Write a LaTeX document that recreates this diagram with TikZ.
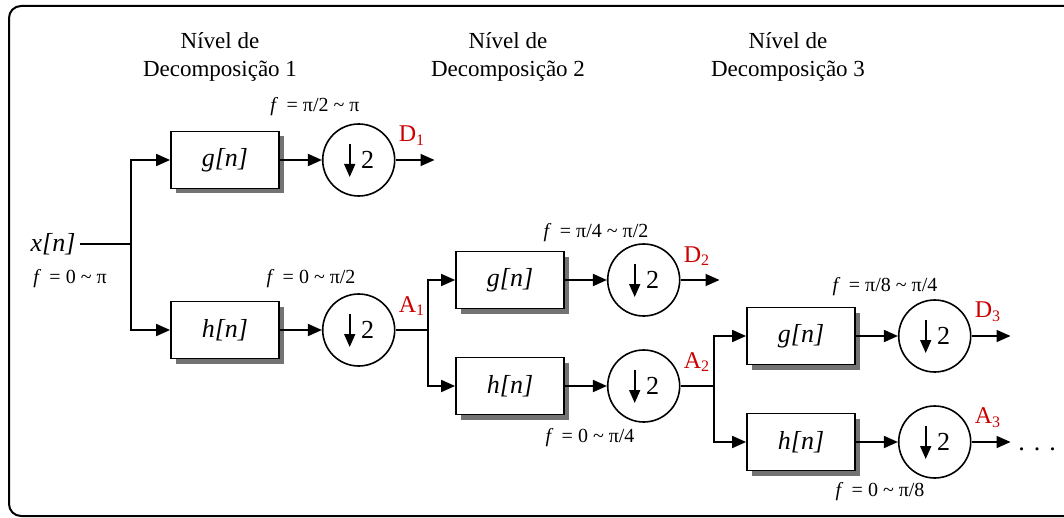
\documentclass[tikz,border=0pt]{standalone}
\usepackage{fontspec}
\setmainfont{Liberation Serif}
\newfontfamily\timesfont{Liberation Serif}
\usetikzlibrary{positioning, arrows.meta, shadows}

\definecolor{bandred}{RGB}{204,0,0}

\begin{document}
\begin{tikzpicture}[
    x=0.5pt, y=-0.5pt,
    font=\timesfont,
    box/.style={draw, line width=0.9pt, fill=white, minimum width=54pt, minimum height=28.5pt,
        font=\timesfont\fontsize{13}{15}\selectfont\itshape,
        drop shadow={shadow xshift=2.5pt, shadow yshift=-2.5pt, fill=black!55, opacity=1}},
    dec/.style={circle, draw, line width=0.8pt, fill=white, minimum size=36pt, inner sep=0pt,
        font=\timesfont\fontsize{13}{15}\selectfont},
    line/.style={-{Triangle[length=7pt, width=6pt]}, line width=0.9pt},
    wire/.style={line width=0.9pt},
    dnarrow/.style={-{Triangle[length=6.5pt, width=5.5pt]}, line width=0.9pt},
    freq/.style={font=\timesfont\fontsize{10}{12}\selectfont},
    band/.style={font=\timesfont\fontsize{12}{14}\selectfont, text=bandred, inner sep=0pt},
    level/.style={align=center, font=\timesfont\fontsize{11.5}{14}\selectfont}
]
    \useasboundingbox (0,0) rectangle (1064,518);
    \clip (0,0) rectangle (1064,518);
    \draw[line width=1pt, rounded corners=6pt] (9,6) rectangle (1078,516);

    \node[level] (lev1) at (220,57) {Nível de\\Decomposição 1};
    \node[level] (lev2) at (508,57) {Nível de\\Decomposição 2};
    \node[level] (lev3) at (788,57) {Nível de\\Decomposição 3};

    \node[font=\timesfont\fontsize{13}{15}\selectfont\itshape, inner sep=2pt] (xn) at (53,244) {x[n]};
    \node[freq] (fx) at (70,279) {\textit{f} \,= 0 \textasciitilde{} π};
    \coordinate (b0) at (131,244);

    \node[box] (g1) at (225,160) {g[n]};
    \node[box] (h1) at (225,330) {h[n]};
    \node[dec, right=21pt of g1] (c1g) {\hspace*{9pt}2};
    \node[dec, right=21pt of h1] (c1h) {\hspace*{9pt}2};
    \node[freq] (f1g) at (315,107) {\textit{f} \,= π/2 \textasciitilde{} π};
    \node[freq] (f1h) at (311,279) {\textit{f} \,= 0 \textasciitilde{} π/2};
    \coordinate[right=19.5pt of c1g] (o1);
    \coordinate (b1) at (428,330);

    \node[box] (g2) at (510,280) {g[n]};
    \node[box] (h2) at (510,386) {h[n]};
    \node[dec, right=21pt of g2] (c2g) {\hspace*{9pt}2};
    \node[dec, right=21pt of h2] (c2h) {\hspace*{9pt}2};
    \node[freq] (f2g) at (596,233) {\textit{f} \,= π/4 \textasciitilde{} π/2};
    \node[freq] (f2h) at (590,438) {\textit{f} \,= 0 \textasciitilde{} π/4};
    \coordinate[right=19.5pt of c2g] (o2);
    \coordinate (b2) at (714,386);

    \node[box] (g3) at (801,336) {g[n]};
    \node[box] (h3) at (801,442) {h[n]};
    \node[dec, right=21pt of g3] (c3g) {\hspace*{9pt}2};
    \node[dec, right=21pt of h3] (c3h) {\hspace*{9pt}2};
    \node[freq] (f3g) at (885,287) {\textit{f} \,= π/8 \textasciitilde{} π/4};
    \node[freq] (f3h) at (880,492) {\textit{f} \,= 0 \textasciitilde{} π/8};
    \coordinate[right=19.5pt of c3g] (o3);
    \coordinate[right=19.5pt of c3h] (o4);
    \node[font=\timesfont\fontsize{13}{15}\selectfont] (dots) at (1037,449) {.\hspace{4.5pt}.\hspace{4.5pt}.};

    \node[band, above right=7pt and 1.5pt of c1g.east] (d1) {D\textsubscript{1}};
    \node[band, above right=7pt and 1.5pt of c1h.east] (a1) {A\textsubscript{1}};
    \node[band, above right=7pt and 1.5pt of c2g.east] (d2) {D\textsubscript{2}};
    \node[band, above right=7pt and 1.5pt of c2h.east] (a2) {A\textsubscript{2}};
    \node[band, above right=7pt and 1.5pt of c3g.east] (d3) {D\textsubscript{3}};
    \node[band, above right=7pt and 1.5pt of c3h.east] (a3) {A\textsubscript{3}};

    \foreach \c in {c1g, c1h, c2g, c2h, c3g, c3h}
        \draw[dnarrow] ([xshift=-4.5pt, yshift=8pt]\c.center) -- ([xshift=-4.5pt, yshift=-8.5pt]\c.center);

    \draw[wire] (xn.east) -- (b0);
    \draw[line] (b0) |- (g1);
    \draw[line] (b0) |- (h1);
    \draw[line] (g1) -- (c1g);
    \draw[line] (h1) -- (c1h);
    \draw[line] (c1g) -- (o1);
    \draw[wire] (c1h) -- (b1);
    \draw[line] (b1) |- (g2);
    \draw[line] (b1) |- (h2);
    \draw[line] (g2) -- (c2g);
    \draw[line] (h2) -- (c2h);
    \draw[line] (c2g) -- (o2);
    \draw[wire] (c2h) -- (b2);
    \draw[line] (b2) |- (g3);
    \draw[line] (b2) |- (h3);
    \draw[line] (g3) -- (c3g);
    \draw[line] (h3) -- (c3h);
    \draw[line] (c3g) -- (o3);
    \draw[line] (c3h) -- (o4);
\end{tikzpicture}
\end{document}
